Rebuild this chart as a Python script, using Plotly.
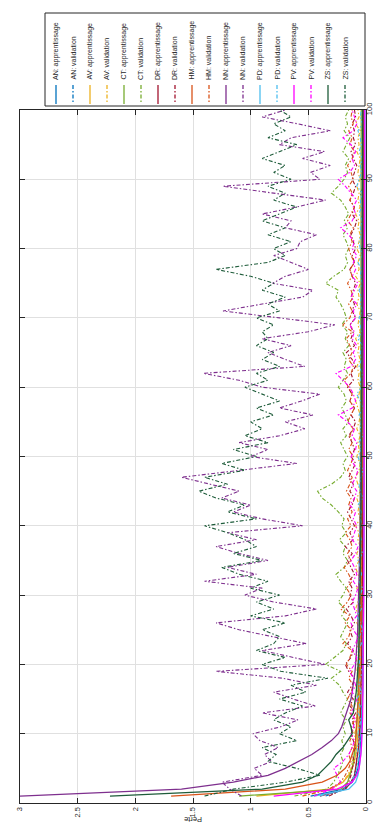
import plotly.graph_objects as go

# données : perte par époque (1..100) pour chaque modèle
epoques = list(range(1, 101))

modeles = ['AN', 'AV', 'CT', 'DR', 'HM', 'NN', 'PD', 'PV', 'ZS']
couleurs = ['#0072BD', '#EDB120', '#77AC30', '#A2142F', '#D95319',
            '#7E2F8E', '#4DBEEE', '#FF00FF', '#1E5C3A']

an_app = [0.48, 0.20, 0.12, 0.09, 0.07, 0.06, 0.055, 0.05, 0.045, 0.04,
          0.04, 0.038, 0.035, 0.035, 0.033, 0.03, 0.03, 0.029, 0.028, 0.027,
          0.027, 0.026, 0.025, 0.025, 0.024, 0.024, 0.023, 0.023, 0.022, 0.022,
          0.022, 0.021, 0.021, 0.021, 0.02, 0.02, 0.02, 0.02, 0.019, 0.019,
          0.019, 0.019, 0.018, 0.018, 0.018, 0.018, 0.018, 0.017, 0.017, 0.017,
          0.017, 0.017, 0.016, 0.016, 0.016, 0.016, 0.016, 0.016, 0.015, 0.015,
          0.015, 0.015, 0.015, 0.015, 0.015, 0.014, 0.014, 0.014, 0.014, 0.014,
          0.014, 0.014, 0.014, 0.013, 0.013, 0.013, 0.013, 0.013, 0.013, 0.013,
          0.013, 0.013, 0.012, 0.012, 0.012, 0.012, 0.012, 0.012, 0.012, 0.012,
          0.012, 0.012, 0.012, 0.011, 0.011, 0.011, 0.011, 0.011, 0.011, 0.011]
an_val = [0.35, 0.18, 0.13, 0.10, 0.09, 0.08, 0.09, 0.07, 0.06, 0.07,
          0.05, 0.06, 0.05, 0.04, 0.06, 0.05, 0.04, 0.05, 0.04, 0.05,
          0.03, 0.04, 0.05, 0.03, 0.04, 0.03, 0.05, 0.04, 0.03, 0.04,
          0.03, 0.04, 0.02, 0.04, 0.03, 0.05, 0.03, 0.02, 0.04, 0.03,
          0.04, 0.02, 0.03, 0.04, 0.03, 0.02, 0.04, 0.03, 0.05, 0.03,
          0.02, 0.03, 0.04, 0.02, 0.03, 0.04, 0.02, 0.03, 0.02, 0.04,
          0.03, 0.02, 0.04, 0.03, 0.02, 0.03, 0.05, 0.02, 0.03, 0.02,
          0.04, 0.03, 0.02, 0.03, 0.02, 0.04, 0.03, 0.02, 0.03, 0.04,
          0.02, 0.03, 0.02, 0.04, 0.03, 0.02, 0.03, 0.05, 0.02, 0.03,
          0.02, 0.04, 0.03, 0.02, 0.03, 0.02, 0.04, 0.03, 0.02, 0.03]

av_app = [0.95, 0.32, 0.20, 0.15, 0.12, 0.10, 0.09, 0.08, 0.075, 0.07,
          0.065, 0.06, 0.06, 0.055, 0.055, 0.05, 0.05, 0.048, 0.046, 0.045,
          0.044, 0.043, 0.042, 0.041, 0.04, 0.04, 0.039, 0.038, 0.037, 0.037,
          0.036, 0.036, 0.035, 0.035, 0.034, 0.034, 0.033, 0.033, 0.032, 0.032,
          0.032, 0.031, 0.031, 0.03, 0.03, 0.03, 0.029, 0.029, 0.029, 0.028,
          0.028, 0.028, 0.027, 0.027, 0.027, 0.026, 0.026, 0.026, 0.026, 0.025,
          0.025, 0.025, 0.025, 0.024, 0.024, 0.024, 0.024, 0.023, 0.023, 0.023,
          0.023, 0.023, 0.022, 0.022, 0.022, 0.022, 0.022, 0.021, 0.021, 0.021,
          0.021, 0.021, 0.021, 0.02, 0.02, 0.02, 0.02, 0.02, 0.02, 0.02,
          0.02, 0.019, 0.019, 0.019, 0.019, 0.019, 0.019, 0.019, 0.019, 0.018]
av_val = [0.55, 0.30, 0.20, 0.16, 0.13, 0.12, 0.10, 0.11, 0.09, 0.10,
          0.08, 0.09, 0.07, 0.10, 0.08, 0.07, 0.09, 0.06, 0.08, 0.07,
          0.09, 0.06, 0.08, 0.07, 0.05, 0.08, 0.06, 0.09, 0.07, 0.06,
          0.08, 0.05, 0.07, 0.09, 0.06, 0.08, 0.05, 0.07, 0.06, 0.09,
          0.05, 0.07, 0.06, 0.08, 0.05, 0.07, 0.09, 0.06, 0.05, 0.08,
          0.06, 0.07, 0.05, 0.08, 0.06, 0.05, 0.07, 0.09, 0.06, 0.05,
          0.07, 0.06, 0.08, 0.05, 0.07, 0.06, 0.09, 0.05, 0.07, 0.06,
          0.05, 0.08, 0.06, 0.07, 0.05, 0.09, 0.06, 0.07, 0.05, 0.08,
          0.06, 0.05, 0.07, 0.06, 0.09, 0.05, 0.07, 0.06, 0.08, 0.05,
          0.07, 0.06, 0.05, 0.08, 0.06, 0.07, 0.05, 0.09, 0.06, 0.07]

ct_app = [1.10, 0.22, 0.16, 0.14, 0.12, 0.11, 0.10, 0.095, 0.09, 0.085,
          0.08, 0.078, 0.075, 0.072, 0.07, 0.068, 0.066, 0.065, 0.063, 0.062,
          0.06, 0.06, 0.059, 0.058, 0.058, 0.057, 0.056, 0.056, 0.055, 0.055,
          0.054, 0.054, 0.053, 0.053, 0.052, 0.052, 0.052, 0.051, 0.051, 0.051,
          0.05, 0.05, 0.05, 0.05, 0.049, 0.049, 0.049, 0.049, 0.048, 0.048,
          0.048, 0.048, 0.048, 0.047, 0.047, 0.047, 0.047, 0.047, 0.046, 0.046,
          0.046, 0.046, 0.046, 0.046, 0.045, 0.045, 0.045, 0.045, 0.045, 0.045,
          0.045, 0.044, 0.044, 0.044, 0.044, 0.044, 0.044, 0.044, 0.043, 0.043,
          0.043, 0.043, 0.043, 0.043, 0.043, 0.043, 0.042, 0.042, 0.042, 0.042,
          0.042, 0.042, 0.042, 0.042, 0.042, 0.041, 0.041, 0.041, 0.041, 0.041]
ct_val = [0.62, 0.34, 0.28, 0.25, 0.22, 0.20, 0.22, 0.19, 0.21, 0.18,
          0.20, 0.17, 0.22, 0.19, 0.16, 0.20, 0.23, 0.30, 0.22, 0.35,
          0.28, 0.20, 0.17, 0.22, 0.19, 0.16, 0.21, 0.18, 0.24, 0.20,
          0.17, 0.22, 0.26, 0.19, 0.16, 0.20, 0.18, 0.23, 0.17, 0.21,
          0.19, 0.24, 0.30, 0.38, 0.42, 0.30, 0.22, 0.18, 0.20, 0.16,
          0.19, 0.22, 0.17, 0.20, 0.15, 0.18, 0.21, 0.17, 0.19, 0.24,
          0.20, 0.16, 0.19, 0.17, 0.20, 0.15, 0.18, 0.16, 0.21, 0.17,
          0.19, 0.22, 0.26, 0.24, 0.35, 0.28, 0.19, 0.16, 0.18, 0.15,
          0.17, 0.20, 0.16, 0.19, 0.15, 0.18, 0.22, 0.30, 0.24, 0.19,
          0.16, 0.18, 0.15, 0.20, 0.17, 0.14, 0.19, 0.16, 0.18, 0.15]

dr_app = [0.40, 0.18, 0.13, 0.10, 0.09, 0.08, 0.07, 0.065, 0.06, 0.055,
          0.052, 0.05, 0.048, 0.046, 0.045, 0.043, 0.042, 0.041, 0.04, 0.039,
          0.038, 0.037, 0.036, 0.036, 0.035, 0.034, 0.034, 0.033, 0.033, 0.032,
          0.032, 0.031, 0.031, 0.03, 0.03, 0.03, 0.029, 0.029, 0.029, 0.028,
          0.028, 0.028, 0.027, 0.027, 0.027, 0.027, 0.026, 0.026, 0.026, 0.026,
          0.025, 0.025, 0.025, 0.025, 0.025, 0.024, 0.024, 0.024, 0.024, 0.024,
          0.023, 0.023, 0.023, 0.023, 0.023, 0.023, 0.022, 0.022, 0.022, 0.022,
          0.022, 0.022, 0.022, 0.021, 0.021, 0.021, 0.021, 0.021, 0.021, 0.021,
          0.021, 0.02, 0.02, 0.02, 0.02, 0.02, 0.02, 0.02, 0.02, 0.02,
          0.02, 0.019, 0.019, 0.019, 0.019, 0.019, 0.019, 0.019, 0.019, 0.019]
dr_val = [0.32, 0.20, 0.15, 0.13, 0.12, 0.10, 0.12, 0.09, 0.11, 0.13,
          0.10, 0.12, 0.09, 0.14, 0.11, 0.16, 0.12, 0.10, 0.15, 0.18,
          0.13, 0.11, 0.16, 0.12, 0.14, 0.10, 0.13, 0.17, 0.11, 0.14,
          0.12, 0.15, 0.10, 0.13, 0.16, 0.12, 0.18, 0.11, 0.14, 0.10,
          0.13, 0.16, 0.12, 0.10, 0.14, 0.11, 0.15, 0.12, 0.09, 0.13,
          0.10, 0.12, 0.15, 0.11, 0.09, 0.13, 0.10, 0.14, 0.12, 0.16,
          0.11, 0.13, 0.09, 0.12, 0.17, 0.10, 0.13, 0.11, 0.14, 0.09,
          0.12, 0.10, 0.13, 0.11, 0.09, 0.12, 0.14, 0.10, 0.12, 0.09,
          0.11, 0.13, 0.10, 0.08, 0.12, 0.10, 0.14, 0.11, 0.09, 0.12,
          0.10, 0.08, 0.11, 0.13, 0.09, 0.11, 0.10, 0.12, 0.09, 0.10]

hm_app = [1.69, 0.70, 0.38, 0.25, 0.18, 0.14, 0.12, 0.10, 0.09, 0.085,
          0.08, 0.075, 0.07, 0.068, 0.065, 0.062, 0.06, 0.058, 0.056, 0.055,
          0.053, 0.052, 0.051, 0.05, 0.049, 0.048, 0.047, 0.046, 0.046, 0.045,
          0.044, 0.044, 0.043, 0.043, 0.042, 0.042, 0.041, 0.041, 0.04, 0.04,
          0.04, 0.039, 0.039, 0.038, 0.038, 0.038, 0.037, 0.037, 0.037, 0.036,
          0.036, 0.036, 0.035, 0.035, 0.035, 0.035, 0.034, 0.034, 0.034, 0.034,
          0.033, 0.033, 0.033, 0.033, 0.032, 0.032, 0.032, 0.032, 0.032, 0.031,
          0.031, 0.031, 0.031, 0.031, 0.03, 0.03, 0.03, 0.03, 0.03, 0.03,
          0.029, 0.029, 0.029, 0.029, 0.029, 0.029, 0.028, 0.028, 0.028, 0.028,
          0.028, 0.028, 0.028, 0.027, 0.027, 0.027, 0.027, 0.027, 0.027, 0.027]
hm_val = [0.55, 0.32, 0.22, 0.18, 0.15, 0.13, 0.15, 0.12, 0.14, 0.11,
          0.13, 0.10, 0.14, 0.12, 0.16, 0.13, 0.11, 0.15, 0.12, 0.17,
          0.14, 0.12, 0.20, 0.15, 0.13, 0.18, 0.14, 0.22, 0.16, 0.13,
          0.17, 0.12, 0.15, 0.19, 0.13, 0.16, 0.12, 0.14, 0.18, 0.13,
          0.16, 0.12, 0.15, 0.13, 0.17, 0.14, 0.12, 0.16, 0.13, 0.11,
          0.15, 0.12, 0.14, 0.11, 0.16, 0.13, 0.10, 0.14, 0.12, 0.15,
          0.19, 0.13, 0.11, 0.15, 0.12, 0.14, 0.17, 0.12, 0.20, 0.14,
          0.12, 0.15, 0.11, 0.13, 0.16, 0.12, 0.14, 0.10, 0.13, 0.15,
          0.12, 0.14, 0.11, 0.16, 0.13, 0.10, 0.14, 0.12, 0.15, 0.11,
          0.13, 0.16, 0.12, 0.10, 0.14, 0.12, 0.15, 0.11, 0.13, 0.12]

nn_app = [3.00, 1.60, 1.15, 0.85, 0.70, 0.58, 0.47, 0.38, 0.30, 0.24,
          0.21, 0.19, 0.17, 0.15, 0.13, 0.12, 0.11, 0.10, 0.095, 0.09,
          0.085, 0.08, 0.078, 0.075, 0.072, 0.07, 0.068, 0.066, 0.064, 0.062,
          0.06, 0.059, 0.057, 0.056, 0.055, 0.054, 0.053, 0.052, 0.051, 0.05,
          0.049, 0.048, 0.047, 0.047, 0.046, 0.045, 0.045, 0.044, 0.043, 0.043,
          0.042, 0.042, 0.041, 0.041, 0.04, 0.04, 0.039, 0.039, 0.039, 0.038,
          0.038, 0.037, 0.037, 0.037, 0.036, 0.036, 0.036, 0.035, 0.035, 0.035,
          0.034, 0.034, 0.034, 0.034, 0.033, 0.033, 0.033, 0.033, 0.032, 0.032,
          0.032, 0.032, 0.031, 0.031, 0.031, 0.031, 0.031, 0.03, 0.03, 0.03,
          0.03, 0.03, 0.029, 0.029, 0.029, 0.029, 0.029, 0.029, 0.028, 0.028]
nn_val = [1.08, 1.18, 1.25, 0.90, 0.97, 0.82, 0.88, 0.76, 0.92, 0.98,
          0.74, 0.59, 0.90, 0.44, 0.63, 0.80, 0.43, 0.72, 1.30, 0.35,
          0.63, 0.90, 0.52, 0.82, 1.10, 1.30, 0.70, 0.43, 0.80, 1.05,
          0.90, 1.40, 0.95, 1.20, 0.85, 1.10, 1.30, 0.95, 1.20, 0.55,
          0.90, 1.15, 1.00, 1.25, 1.10, 1.35, 1.60, 1.10, 0.60, 1.00,
          0.85, 1.10, 0.75, 0.53, 0.70, 0.46, 0.75, 0.56, 0.40, 0.90,
          1.10, 1.41, 0.53, 0.70, 0.85, 0.65, 0.90, 0.50, 0.27, 0.75,
          1.24, 0.90, 0.55, 0.46, 0.81, 0.70, 0.50, 0.65, 0.80, 0.60,
          0.57, 0.43, 0.70, 0.65, 0.90, 0.60, 0.35, 0.80, 1.24, 0.40,
          0.48, 0.31, 0.55, 0.36, 0.75, 0.65, 0.31, 0.59, 0.90, 0.70]

pd_app = [0.45, 0.15, 0.09, 0.07, 0.06, 0.05, 0.045, 0.04, 0.038, 0.035,
          0.033, 0.031, 0.03, 0.029, 0.028, 0.027, 0.026, 0.025, 0.025, 0.024,
          0.024, 0.023, 0.023, 0.022, 0.022, 0.021, 0.021, 0.021, 0.02, 0.02,
          0.02, 0.02, 0.019, 0.019, 0.019, 0.019, 0.018, 0.018, 0.018, 0.018,
          0.018, 0.017, 0.017, 0.017, 0.017, 0.017, 0.017, 0.016, 0.016, 0.016,
          0.016, 0.016, 0.016, 0.016, 0.015, 0.015, 0.015, 0.015, 0.015, 0.015,
          0.015, 0.015, 0.014, 0.014, 0.014, 0.014, 0.014, 0.014, 0.014, 0.014,
          0.014, 0.013, 0.013, 0.013, 0.013, 0.013, 0.013, 0.013, 0.013, 0.013,
          0.013, 0.013, 0.012, 0.012, 0.012, 0.012, 0.012, 0.012, 0.012, 0.012,
          0.012, 0.012, 0.012, 0.012, 0.011, 0.011, 0.011, 0.011, 0.011, 0.011]
pd_val = [0.40, 0.20, 0.13, 0.10, 0.08, 0.07, 0.06, 0.08, 0.05, 0.07,
          0.06, 0.04, 0.07, 0.05, 0.08, 0.04, 0.06, 0.05, 0.03, 0.06,
          0.05, 0.07, 0.04, 0.06, 0.03, 0.05, 0.08, 0.04, 0.06, 0.05,
          0.03, 0.06, 0.04, 0.05, 0.07, 0.03, 0.05, 0.04, 0.06, 0.03,
          0.05, 0.04, 0.07, 0.03, 0.05, 0.06, 0.04, 0.03, 0.05, 0.07,
          0.04, 0.06, 0.03, 0.05, 0.04, 0.06, 0.03, 0.05, 0.08, 0.04,
          0.05, 0.03, 0.06, 0.04, 0.05, 0.03, 0.07, 0.04, 0.05, 0.06,
          0.03, 0.05, 0.04, 0.06, 0.03, 0.05, 0.04, 0.07, 0.03, 0.05,
          0.06, 0.04, 0.05, 0.03, 0.06, 0.04, 0.05, 0.03, 0.08, 0.06,
          0.04, 0.05, 0.03, 0.06, 0.04, 0.05, 0.07, 0.03, 0.05, 0.04]

pv_app = [0.80, 0.25, 0.12, 0.08, 0.06, 0.05, 0.045, 0.04, 0.036, 0.033,
          0.031, 0.03, 0.029, 0.028, 0.027, 0.026, 0.025, 0.024, 0.024, 0.023,
          0.023, 0.022, 0.022, 0.021, 0.021, 0.021, 0.02, 0.02, 0.02, 0.02,
          0.019, 0.019, 0.019, 0.019, 0.018, 0.018, 0.018, 0.018, 0.018, 0.017,
          0.017, 0.017, 0.017, 0.017, 0.017, 0.016, 0.016, 0.016, 0.016, 0.016,
          0.016, 0.016, 0.015, 0.015, 0.015, 0.015, 0.015, 0.015, 0.015, 0.015,
          0.014, 0.014, 0.014, 0.014, 0.014, 0.014, 0.014, 0.014, 0.014, 0.014,
          0.013, 0.013, 0.013, 0.013, 0.013, 0.013, 0.013, 0.013, 0.013, 0.013,
          0.013, 0.012, 0.012, 0.012, 0.012, 0.012, 0.012, 0.012, 0.012, 0.012,
          0.012, 0.012, 0.012, 0.012, 0.011, 0.011, 0.011, 0.011, 0.011, 0.011]
pv_val = [0.45, 0.30, 0.22, 0.25, 0.28, 0.20, 0.15, 0.12, 0.10, 0.13,
          0.11, 0.09, 0.13, 0.10, 0.08, 0.12, 0.09, 0.11, 0.14, 0.10,
          0.08, 0.12, 0.09, 0.07, 0.11, 0.13, 0.08, 0.10, 0.12, 0.09,
          0.07, 0.11, 0.08, 0.10, 0.13, 0.09, 0.07, 0.12, 0.10, 0.08,
          0.11, 0.09, 0.14, 0.10, 0.08, 0.12, 0.09, 0.07, 0.11, 0.13,
          0.09, 0.08, 0.12, 0.10, 0.16, 0.24, 0.12, 0.09, 0.11, 0.14,
          0.20, 0.26, 0.13, 0.09, 0.11, 0.08, 0.12, 0.10, 0.14, 0.09,
          0.11, 0.08, 0.13, 0.10, 0.07, 0.12, 0.09, 0.11, 0.08, 0.12,
          0.10, 0.15, 0.22, 0.12, 0.09, 0.11, 0.08, 0.13, 0.18, 0.24,
          0.14, 0.10, 0.12, 0.09, 0.13, 0.20, 0.11, 0.08, 0.10, 0.12]

zs_app = [2.22, 0.90, 0.55, 0.42, 0.36, 0.30, 0.26, 0.20, 0.16, 0.12,
          0.13, 0.15, 0.11, 0.10, 0.09, 0.085, 0.08, 0.075, 0.07, 0.068,
          0.065, 0.063, 0.061, 0.059, 0.058, 0.056, 0.055, 0.054, 0.053, 0.052,
          0.051, 0.05, 0.049, 0.048, 0.048, 0.047, 0.046, 0.046, 0.045, 0.044,
          0.044, 0.043, 0.043, 0.042, 0.042, 0.041, 0.041, 0.04, 0.04, 0.04,
          0.039, 0.039, 0.038, 0.038, 0.038, 0.037, 0.037, 0.037, 0.036, 0.036,
          0.036, 0.035, 0.035, 0.035, 0.035, 0.034, 0.034, 0.034, 0.034, 0.033,
          0.033, 0.033, 0.033, 0.032, 0.032, 0.032, 0.032, 0.032, 0.031, 0.031,
          0.031, 0.031, 0.031, 0.03, 0.03, 0.03, 0.03, 0.03, 0.03, 0.029,
          0.029, 0.029, 0.029, 0.029, 0.029, 0.028, 0.028, 0.028, 0.028, 0.028]
zs_val = [1.40, 1.15, 0.70, 0.40, 0.60, 0.85, 0.78, 0.90, 0.60, 0.75,
          0.65, 0.80, 0.70, 0.55, 0.75, 0.52, 0.65, 0.33, 0.74, 0.90,
          0.70, 0.95, 0.80, 0.75, 0.90, 0.70, 1.00, 0.80, 0.95, 0.75,
          1.00, 0.85, 1.10, 1.25, 0.90, 1.15, 0.95, 1.05, 1.20, 1.40,
          0.95, 1.20, 1.05, 1.30, 1.45, 1.20, 1.40, 1.05, 1.25, 0.95,
          1.15, 0.85, 1.05, 0.90, 1.00, 0.80, 0.95, 0.75, 0.90, 1.05,
          0.85, 0.95, 0.75, 0.90, 0.80, 0.95, 0.85, 0.90, 0.80, 0.95,
          0.75, 0.85, 0.70, 0.90, 0.80, 1.00, 1.30, 0.85, 0.70, 0.80,
          0.65, 0.85, 0.70, 0.90, 0.75, 0.60, 0.80, 0.70, 0.85, 0.65,
          0.80, 0.70, 0.90, 0.75, 0.60, 0.85, 0.70, 0.80, 0.65, 0.75]

series = {
    'AN': (an_app, an_val), 'AV': (av_app, av_val), 'CT': (ct_app, ct_val),
    'DR': (dr_app, dr_val), 'HM': (hm_app, hm_val), 'NN': (nn_app, nn_val),
    'PD': (pd_app, pd_val), 'PV': (pv_app, pv_val), 'ZS': (zs_app, zs_val),
}

police = 'Liberation Sans, Arial, sans-serif'
gris = '#262626'
tiret_val = '4px,2px,1.5px,2px'   # tiret-point serré, façon MATLAB

# position des pixels -> coordonnées papier (zone de tracé 12..358 x 102..795)
def px_x(p):
    return (p - 12) / 346

def px_y(p):
    return (795 - p) / 693

fig = go.Figure()

# la figure est tournée : perte en horizontal (inversé), époques en vertical
for nom, coul in zip(modeles, couleurs):
    app, val = series[nom]
    fig.add_trace(go.Scatter(x=app, y=epoques, mode='lines',
                             line=dict(color=coul, width=1.3),
                             name=nom + ': apprentissage'))
    fig.add_trace(go.Scatter(x=val, y=epoques, mode='lines',
                             line=dict(color=coul, width=1.1, dash=tiret_val),
                             name=nom + ': validation'))

# légende dessinée à la main, texte pivoté
formes = [dict(type='rect', xref='paper', yref='paper',
               x0=px_x(37), x1=px_x(357), y0=px_y(98), y1=px_y(5),
               line=dict(color=gris, width=1), fillcolor='white', layer='above')]
annots = []
i = 0
for nom, coul in zip(modeles, couleurs):
    for lib, tiret in [('apprentissage', 'solid'), ('validation', tiret_val)]:
        xc = 48 + 17 * i
        formes.append(dict(type='line', xref='paper', yref='paper',
                           x0=px_x(xc), x1=px_x(xc), y0=px_y(77), y1=px_y(96),
                           line=dict(color=coul, width=1.3, dash=tiret), layer='above'))
        annots.append(dict(text=nom + ': ' + lib, xref='paper', yref='paper',
                           x=px_x(xc), y=px_y(74), xanchor='center', yanchor='bottom',
                           textangle=-90, showarrow=False,
                           font=dict(family=police, size=7, color=gris)))
        i += 1

# titres des axes, pivotés comme dans la figure d'origine
annots.append(dict(text='Perte', xref='paper', yref='paper', x=px_x(185), y=px_y(812),
                   textangle=180, showarrow=False, xanchor='center', yanchor='middle',
                   font=dict(family=police, size=7.5, color=gris)))
annots.append(dict(text='Epoques', xref='paper', yref='paper', x=px_x(374), y=px_y(447),
                   textangle=-90, showarrow=False, xanchor='center', yanchor='middle',
                   borderpad=0,
                   font=dict(family=police, size=7, color=gris)))

fig.update_layout(
    width=382, height=823,
    margin=dict(l=12, r=24, t=102, b=28),
    paper_bgcolor='white', plot_bgcolor='white',
    showlegend=False,
    shapes=formes, annotations=annots,
    font=dict(family=police, size=7.5, color=gris),
)
fig.update_xaxes(range=[3, 0], tickvals=[0, 0.5, 1, 1.5, 2, 2.5, 3],
                 ticktext=['0', '0.5', '1', '1.5', '2', '2.5', '3'],
                 tickangle=-90, ticks='inside', ticklen=5, tickcolor=gris,
                 showline=True, linecolor=gris, linewidth=1, mirror='ticks',
                 showgrid=True, gridcolor='#e0e0e0', gridwidth=1, zeroline=False,
                 automargin=False,
                 tickfont=dict(family=police, size=7.5, color=gris))
fig.update_yaxes(range=[0, 100], tickvals=list(range(0, 101, 10)),
                 side='right', tickangle=-90, ticks='inside', ticklen=5, tickcolor=gris,
                 ticklabelstandoff=-4,
                 showline=True, linecolor=gris, linewidth=1, mirror='ticks',
                 showgrid=True, gridcolor='#e0e0e0', gridwidth=1, zeroline=False,
                 automargin=False,
                 tickfont=dict(family=police, size=7.5, color=gris))

fig.write_html('out.html')
